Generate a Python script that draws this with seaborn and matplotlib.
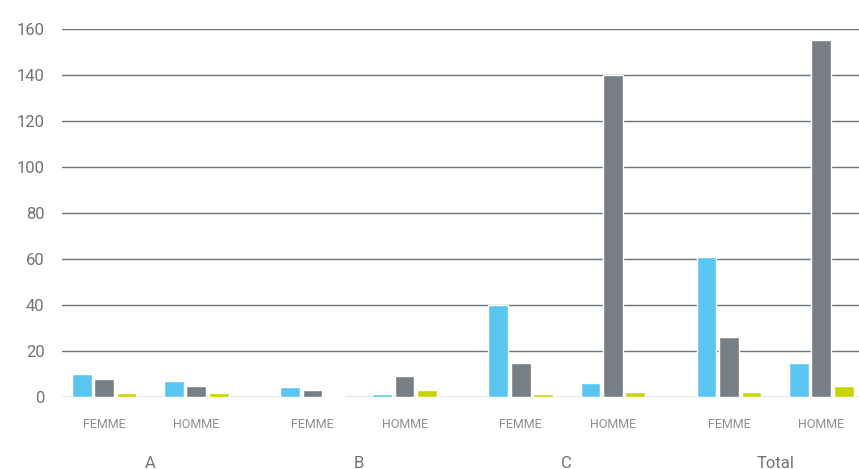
import matplotlib
matplotlib.use("Agg")
import matplotlib.pyplot as plt
import matplotlib.transforms as mtransforms
import seaborn as sns
import pandas as pd

# -----------------------
# Data
# -----------------------

groups = ["A", "B", "C", "Total"]
sexes = ["FEMME", "HOMME"]

# one value per (group, sex), in order A-FEMME, A-HOMME, B-FEMME, ...
serie_bleue = [10, 7, 4.3, 1.2, 40, 6, 61, 15]
serie_grise = [8, 5, 3, 9, 15, 140, 26, 155]
serie_verte = [1.6, 1.6, 0.6, 3, 1.4, 2, 2, 5]

series_names = ["Série 1", "Série 2", "Série 3"]
colors = ["#5bc5f2", "#777e86", "#c8d400"]

# -----------------------
# Layout of the nested categories
# -----------------------

group_step = 2.26

rows = []
positions = []
for gi, group in enumerate(groups):
    for si, sex in enumerate(sexes):
        positions.append(gi * group_step + si)

for name, values in zip(series_names, [serie_bleue, serie_grise, serie_verte]):
    for pos, value in zip(positions, values):
        rows.append({"pos": pos, "serie": name, "value": value})

df = pd.DataFrame(rows)

sns.set_style("white")
plt.rcParams["font.family"] = ["Roboto", "DejaVu Sans"]

fig = plt.figure(figsize=(8.59, 4.69), dpi=100)
ax = fig.add_axes([62 / 859, 72 / 469, (859 - 62) / 859, 368 / 469])

sns.barplot(
    data=df,
    x="pos",
    y="value",
    hue="serie",
    palette=colors,
    native_scale=True,
    width=0.73,
    gap=0.12,
    saturation=1,
    legend=False,
    ax=ax
)

ax.set_ylim(0, 160)
ax.set_xlim(-0.457, positions[-1] + 0.41)
ax.set_yticks(range(0, 161, 20))
ax.yaxis.grid(True, color="#6d7479", linewidth=1)
ax.set_axisbelow(True)
for spine in ax.spines.values():
    spine.set_visible(False)

ax.tick_params(axis="y", length=0, pad=12.5, labelsize=12, labelcolor="#6d7479")
ax.set_xticks(positions)
ax.set_xticklabels(sexes * len(groups))
ax.tick_params(axis="x", length=0, pad=15, labelsize=9, labelcolor="#8a9095")
ax.set_xlabel("")
ax.set_ylabel("")

trans = mtransforms.blended_transform_factory(ax.transData, ax.transAxes)
for gi, group in enumerate(groups):
    ax.text(
        gi * group_step + 0.5,
        -0.18,
        group,
        transform=trans,
        ha="center",
        va="center",
        fontsize=12,
        color="#6d7479"
    )

plt.savefig("out.png", dpi=100)
plt.close()
